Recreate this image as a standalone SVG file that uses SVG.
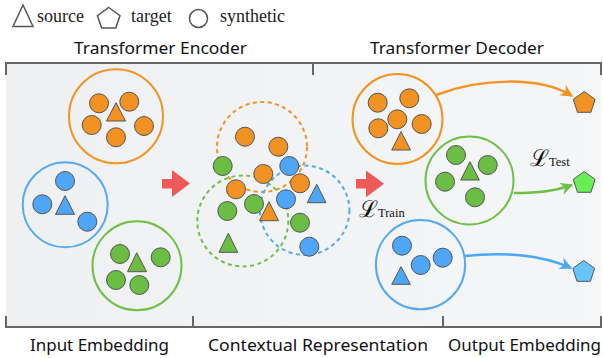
<svg xmlns="http://www.w3.org/2000/svg" width="603" height="358" viewBox="0 0 603 358">
<defs>
<linearGradient id="bg" x1="0" y1="0" x2="1" y2="0">
<stop offset="0" stop-color="#eef0f1"/>
<stop offset="1" stop-color="#f5f6f7"/>
</linearGradient>
<marker id="ah-o" viewBox="0 0 10 10" refX="9" refY="5" markerWidth="5" markerHeight="5" markerUnits="strokeWidth" orient="auto"><path d="M0,0 L10,5 L0,10 L3,5 z" fill="#f29424"/></marker>
<marker id="ah-g" viewBox="0 0 10 10" refX="9" refY="5" markerWidth="5" markerHeight="5" markerUnits="strokeWidth" orient="auto"><path d="M0,0 L10,5 L0,10 L3,5 z" fill="#6fbf45"/></marker>
<marker id="ah-b" viewBox="0 0 10 10" refX="9" refY="5" markerWidth="5" markerHeight="5" markerUnits="strokeWidth" orient="auto"><path d="M0,0 L10,5 L0,10 L3,5 z" fill="#4ea7f5"/></marker>
</defs>
<style>
.hd{font-family:"Noto Sans","DejaVu Sans",sans-serif;font-size:17px;fill:#111}
.lg{font-family:"Liberation Serif",serif;font-size:18px;fill:#222}
.lbig{font-family:"DejaVu Serif",serif;font-size:23px;fill:#111}
.lsub{font-family:"Liberation Serif",serif;font-size:12.5px;fill:#111}
.frame{fill:none;stroke:#666;stroke-width:2}
.o{fill:#f29222;stroke:#555;stroke-width:1}
.b{fill:#4fa6f7;stroke:#555;stroke-width:1}
.g{fill:#6cbd44;stroke:#555;stroke-width:1}
.bo{fill:none;stroke:#f29424;stroke-width:2}
.bb{fill:none;stroke:#55a9f2;stroke-width:2}
.bg{fill:none;stroke:#70bf48;stroke-width:2}
.dash{stroke-dasharray:4 3.5}
.red{fill:#ee5a5a}
.leg{fill:none;stroke:#555;stroke-width:1.5}
</style>

<rect x="6" y="63" width="595" height="264" fill="url(#bg)"/>
<path class="frame" d="M6,75 V63 H601 V75 M313,63 V75"/>
<path class="frame" d="M6,316 V327 H601 V316 M193,316 V327 M443,316 V327"/>

<g id="legend">
<polygon class="leg" points="23,5 13,26.5 33,26.5"/>
<text class="lg" x="37" y="22">source</text>
<polygon class="leg" points="108.7,7.5 120,15.7 115.7,28 101.7,28 97.4,15.7"/>
<text class="lg" x="131" y="22">target</text>
<circle class="leg" cx="198.5" cy="18.5" r="9"/>
<text class="lg" x="220" y="22">synthetic</text>
</g>

<text class="hd" x="74" y="53.5" textLength="173" lengthAdjust="spacingAndGlyphs">Transformer Encoder</text>
<text class="hd" x="370" y="54" textLength="174" lengthAdjust="spacingAndGlyphs">Transformer Decoder</text>
<text class="hd" x="30" y="351" textLength="139" lengthAdjust="spacingAndGlyphs">Input Embedding</text>
<text class="hd" x="208" y="351" textLength="220" lengthAdjust="spacingAndGlyphs">Contextual Representation</text>
<text class="hd" x="448" y="351" textLength="153" lengthAdjust="spacingAndGlyphs">Output Embedding</text>

<g id="input-orange">
<circle class="bo" cx="116" cy="116.3" r="47"/>
<circle class="o" cx="99" cy="103.3" r="9.5"/>
<circle class="o" cx="129.3" cy="101.7" r="9.5"/>
<circle class="o" cx="91.7" cy="125" r="9.5"/>
<circle class="o" cx="144" cy="126" r="9.5"/>
<circle class="o" cx="116" cy="137.3" r="9.5"/>
<polygon class="o" points="116,102.7 106.5,121 125.5,121"/>
</g>
<g id="input-blue">
<circle class="bb" cx="65.2" cy="204.8" r="42.5"/>
<circle class="b" cx="65" cy="181" r="9.5"/>
<circle class="b" cx="42.3" cy="204.3" r="9.5"/>
<circle class="b" cx="87.3" cy="221.7" r="9.5"/>
<polygon class="b" points="65,195.7 55.5,214.3 74.5,214.3"/>
</g>
<g id="input-green">
<circle class="bg" cx="137" cy="265.8" r="44.5"/>
<circle class="g" cx="120" cy="254" r="9.5"/>
<circle class="g" cx="160.7" cy="257.3" r="9.5"/>
<circle class="g" cx="116" cy="280" r="9.5"/>
<circle class="g" cx="139.3" cy="285" r="9.5"/>
<polygon class="g" points="136.7,252.7 127.5,271.7 146.5,271.7"/>
</g>

<g id="arrow-1"><polygon class="red" points="162,179 172,179 172,170 190,183.5 172,197 172,188.5 162,188.5"/></g>
<g id="arrow-2"><polygon class="red" points="356,179 366,179 366,170.5 384,183.8 366,197.3 366,188.5 356,188.5"/></g>

<g id="context">
<circle class="bo dash" cx="262" cy="147" r="45"/>
<circle class="bg dash" cx="242.8" cy="221" r="45.5"/>
<circle class="bb dash" cx="304.7" cy="210.3" r="44.7"/>
<circle class="o" cx="245" cy="136.7" r="9.5"/>
<circle class="o" cx="278.3" cy="146.7" r="9.5"/>
<circle class="g" cx="222.7" cy="166" r="9.5"/>
<circle class="b" cx="289.3" cy="166" r="9.5"/>
<circle class="o" cx="263.3" cy="174" r="9.5"/>
<circle class="o" cx="300" cy="183.3" r="9.5"/>
<circle class="o" cx="236" cy="189.3" r="9.5"/>
<circle class="g" cx="254" cy="204" r="9.5"/>
<circle class="b" cx="286" cy="199.3" r="9.5"/>
<polygon class="b" points="316.7,184.3 307.3,202.7 326,202.7"/>
<circle class="g" cx="227.3" cy="211" r="9.5"/>
<polygon class="o" points="269,201.7 259.5,220.7 278.5,220.7"/>
<circle class="g" cx="300" cy="222.7" r="9.5"/>
<polygon class="g" points="228.3,233.3 219,252.3 237.7,252.3"/>
<circle class="b" cx="309.3" cy="246.7" r="9.5"/>
</g>

<g id="loss-train"><text x="359" y="216.5"><tspan class="lbig">ℒ</tspan><tspan class="lsub">Train</tspan></text></g>
<g id="loss-test"><text x="530" y="166"><tspan class="lbig">ℒ</tspan><tspan class="lsub">Test</tspan></text></g>

<g id="output-orange">
<circle class="bo" cx="397.5" cy="119" r="45"/>
<circle class="o" cx="377.7" cy="102.7" r="9.5"/>
<circle class="o" cx="409.3" cy="98.3" r="9.5"/>
<circle class="o" cx="397.3" cy="119.3" r="9.5"/>
<circle class="o" cx="378.3" cy="128.3" r="9.5"/>
<circle class="o" cx="421.7" cy="124" r="9.5"/>
<polygon class="o" points="401,131.7 391.7,150 410.5,150"/>
</g>
<g id="output-green">
<circle class="bg" cx="469.5" cy="180.5" r="44"/>
<circle class="g" cx="456" cy="155" r="9.5"/>
<circle class="g" cx="487.7" cy="165" r="9.5"/>
<circle class="g" cx="445" cy="181.7" r="9.5"/>
<circle class="g" cx="475" cy="197.3" r="9.5"/>
<polygon class="g" points="470,161.7 460.7,180 479.3,180"/>
</g>
<g id="output-blue">
<circle class="bb" cx="420.5" cy="264.7" r="44.6"/>
<circle class="b" cx="402" cy="245.7" r="9.5"/>
<circle class="b" cx="442.7" cy="257.7" r="9.5"/>
<circle class="b" cx="420.7" cy="265" r="9.5"/>
<polygon class="b" points="401,266.7 391.7,284.3 410.3,284.3"/>
</g>

<g id="connectors">
<path d="M436,95 C480,78 540,76 572,96" fill="none" stroke="#f29424" stroke-width="2.5" marker-end="url(#ah-o)"/>
<path d="M514,193 C540,193 555,191 572,185" fill="none" stroke="#6fbf45" stroke-width="2.5" marker-end="url(#ah-g)"/>
<path d="M465,256 C500,252 540,254 571,268" fill="none" stroke="#4ea7f5" stroke-width="2.5" marker-end="url(#ah-b)"/>
</g>

<g id="target-orange"><polygon class="o" points="584.2,91.5 595.1,99.4 590.9,112.3 577.5,112.3 573.3,99.4"/></g>
<g id="target-green"><polygon points="584.2,171.5 595.1,179.4 590.9,192.3 577.5,192.3 573.3,179.4" fill="#67ee55" stroke="#555" stroke-width="1"/></g>
<g id="target-blue"><polygon points="583.7,260.5 594.6,268.4 590.4,281.3 577,281.3 572.8,268.4" fill="#66c6fa" stroke="#555" stroke-width="1"/></g>
</svg>
